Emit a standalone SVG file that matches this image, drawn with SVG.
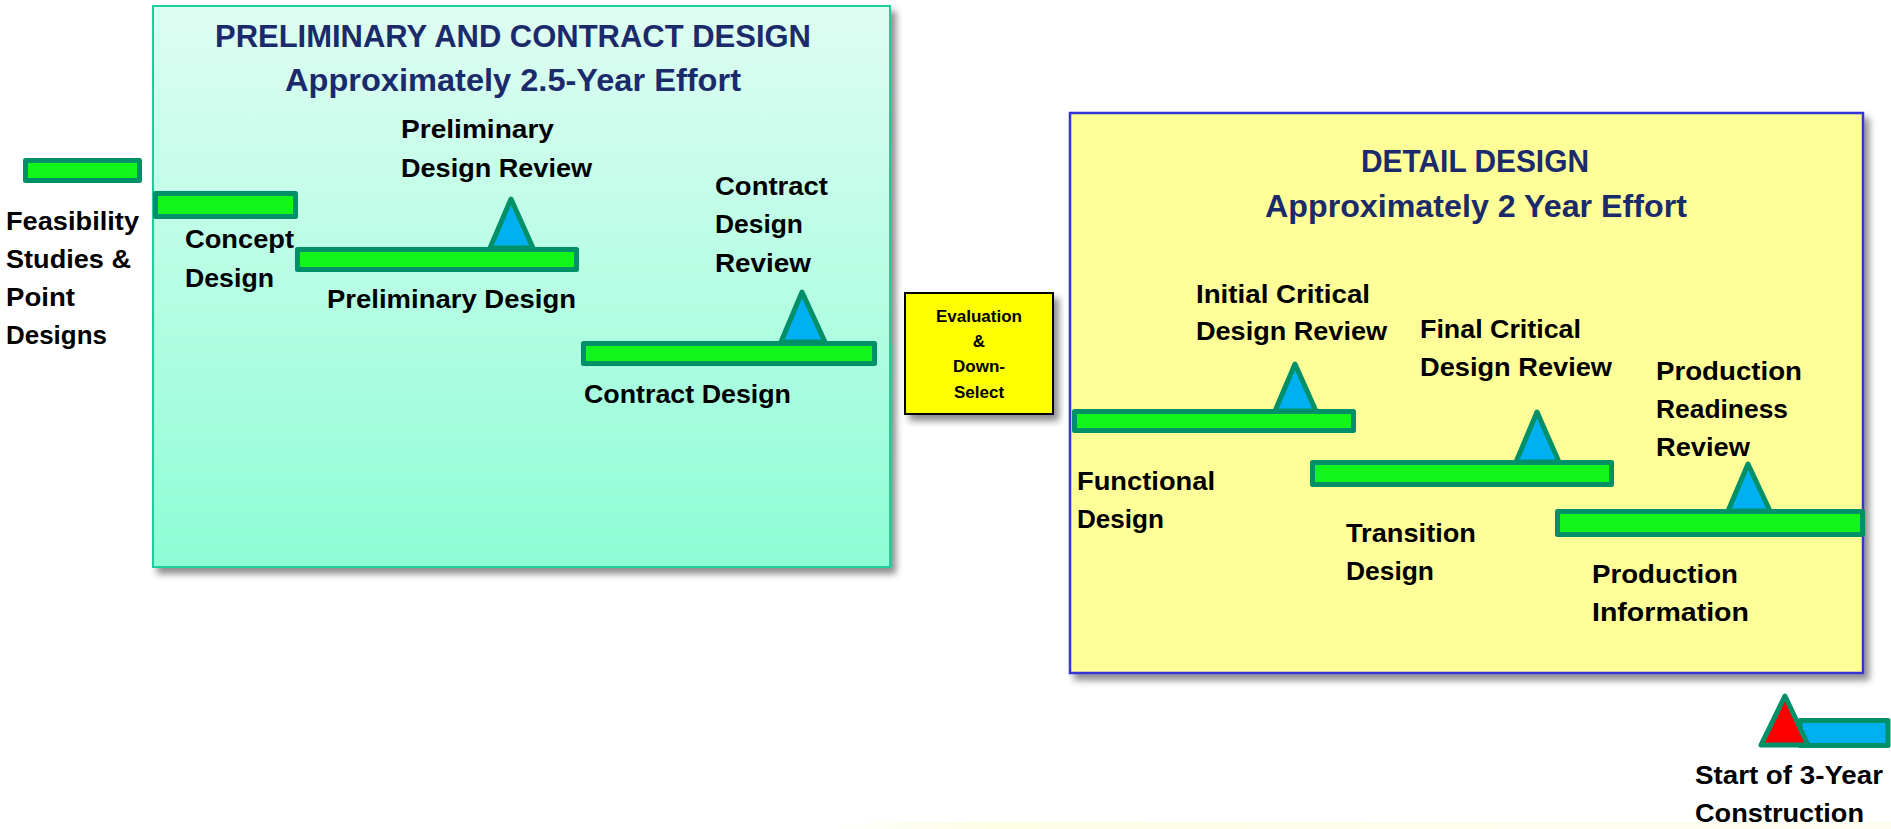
<svg xmlns="http://www.w3.org/2000/svg" width="1891" height="829" viewBox="0 0 1891 829">
  <defs>
    <linearGradient id="mint" x1="0" y1="0" x2="0" y2="1">
      <stop offset="0" stop-color="#dffdf2"/>
      <stop offset="1" stop-color="#8efdd6"/>
    </linearGradient>
    <linearGradient id="haze" x1="0" y1="0" x2="1" y2="0">
      <stop offset="0" stop-color="#fdfde2" stop-opacity="0"/>
      <stop offset="0.15" stop-color="#fbfde0" stop-opacity="0.9"/>
      <stop offset="1" stop-color="#fdfdea" stop-opacity="0.6"/>
    </linearGradient>
    <filter id="shadow" x="-5%" y="-5%" width="112%" height="115%">
      <feDropShadow dx="5" dy="6" stdDeviation="3.5" flood-color="#000" flood-opacity="0.45"/>
    </filter>
    <style>
      text { font-family: "Liberation Sans", Arial, sans-serif; font-weight: bold; }
      .title { font-size: 31px; fill: #1b2a6b; }
      .sub { font-size: 32px; fill: #1b2a6b; }
      .lbl { font-size: 26px; fill: #000; }
      .small { font-size: 17px; fill: #000; text-anchor: middle; }
      .bar { fill: #12f51a; stroke: #009068; stroke-width: 5; stroke-linejoin: round; }
      .bluebar { fill: #00b0f0; stroke: #009068; stroke-width: 5; stroke-linejoin: round; }
      .mile { fill: #00b0f0; stroke: #009068; stroke-width: 5; stroke-linejoin: round; }
      .start { fill: #ff0000; stroke: #009068; stroke-width: 5; stroke-linejoin: round; }
    </style>
  </defs>

  <rect x="0" y="0" width="1891" height="829" fill="#ffffff"/>
  <rect x="830" y="822" width="1061" height="7" fill="url(#haze)"/>

  <!-- Phase panels -->
  <g id="prelim-contract-panel">
    <rect x="153" y="6" width="737" height="561" fill="url(#mint)" stroke="#1fcf9a" stroke-width="2" filter="url(#shadow)"/>
    <text class="title" x="513" y="47" text-anchor="middle" textLength="596" lengthAdjust="spacingAndGlyphs">PRELIMINARY AND CONTRACT DESIGN</text>
    <text class="sub" x="285" y="91" textLength="456" lengthAdjust="spacingAndGlyphs">Approximately 2.5-Year Effort</text>
  </g>

  <g id="detail-panel">
    <rect x="1070" y="113" width="793" height="560" fill="#ffff99" stroke="#3535d5" stroke-width="2.5" filter="url(#shadow)"/>
    <text class="title" x="1475" y="172" text-anchor="middle" textLength="228" lengthAdjust="spacingAndGlyphs">DETAIL DESIGN</text>
    <text class="sub" x="1265" y="217" textLength="422" lengthAdjust="spacingAndGlyphs">Approximately 2 Year Effort</text>
  </g>

  <g id="evaluation">
    <rect x="905" y="293" width="148" height="121" fill="#ffff00" stroke="#000" stroke-width="2" filter="url(#shadow)"/>
    <text class="small" x="979" y="322">Evaluation</text>
    <text class="small" x="979" y="347">&amp;</text>
    <text class="small" x="979" y="372">Down-</text>
    <text class="small" x="979" y="398">Select</text>
  </g>

  <!-- Activity bars and review milestones -->
  <g id="feasibility">
    <rect class="bar" x="25.5" y="160.5" width="114" height="20"/>
    <text class="lbl" x="6" y="230" textLength="133" lengthAdjust="spacingAndGlyphs">Feasibility</text>
    <text class="lbl" x="6" y="268" textLength="125" lengthAdjust="spacingAndGlyphs">Studies &amp;</text>
    <text class="lbl" x="6" y="306" textLength="69" lengthAdjust="spacingAndGlyphs">Point</text>
    <text class="lbl" x="6" y="344" textLength="101" lengthAdjust="spacingAndGlyphs">Designs</text>
  </g>

  <g id="concept-design">
    <rect class="bar" x="155.5" y="193.5" width="140" height="23"/>
    <text class="lbl" x="185" y="248" textLength="109" lengthAdjust="spacingAndGlyphs">Concept</text>
    <text class="lbl" x="185" y="287" textLength="89" lengthAdjust="spacingAndGlyphs">Design</text>
  </g>

  <g id="preliminary-design">
    <polygon class="mile" points="511,199 490,248 533,248"/>
    <rect class="bar" x="297.5" y="249.5" width="279" height="20"/>
    <text class="lbl" x="401" y="138" textLength="153" lengthAdjust="spacingAndGlyphs">Preliminary</text>
    <text class="lbl" x="401" y="177" textLength="191" lengthAdjust="spacingAndGlyphs">Design Review</text>
    <text class="lbl" x="327" y="308" textLength="249" lengthAdjust="spacingAndGlyphs">Preliminary Design</text>
  </g>

  <g id="contract-design">
    <polygon class="mile" points="802,292 781,342 825,342"/>
    <rect class="bar" x="583.5" y="343.5" width="291" height="20"/>
    <text class="lbl" x="715" y="195" textLength="113" lengthAdjust="spacingAndGlyphs">Contract</text>
    <text class="lbl" x="715" y="233" textLength="88" lengthAdjust="spacingAndGlyphs">Design</text>
    <text class="lbl" x="715" y="272" textLength="96" lengthAdjust="spacingAndGlyphs">Review</text>
    <text class="lbl" x="584" y="403" textLength="207" lengthAdjust="spacingAndGlyphs">Contract Design</text>
  </g>

  <g id="functional-design">
    <polygon class="mile" points="1295,364 1275,411 1316,411"/>
    <rect class="bar" x="1074.5" y="411.5" width="279" height="19"/>
    <text class="lbl" x="1196" y="303" textLength="174" lengthAdjust="spacingAndGlyphs">Initial Critical</text>
    <text class="lbl" x="1196" y="340" textLength="191" lengthAdjust="spacingAndGlyphs">Design Review</text>
    <text class="lbl" x="1077" y="490" textLength="138" lengthAdjust="spacingAndGlyphs">Functional</text>
    <text class="lbl" x="1077" y="528" textLength="87" lengthAdjust="spacingAndGlyphs">Design</text>
  </g>

  <g id="transition-design">
    <polygon class="mile" points="1537,412 1516,462 1559,462"/>
    <rect class="bar" x="1312.5" y="462.5" width="299" height="22"/>
    <text class="lbl" x="1420" y="338" textLength="161" lengthAdjust="spacingAndGlyphs">Final Critical</text>
    <text class="lbl" x="1420" y="376" textLength="192" lengthAdjust="spacingAndGlyphs">Design Review</text>
    <text class="lbl" x="1346" y="542" textLength="130" lengthAdjust="spacingAndGlyphs">Transition</text>
    <text class="lbl" x="1346" y="580" textLength="88" lengthAdjust="spacingAndGlyphs">Design</text>
  </g>

  <g id="production-information">
    <polygon class="mile" points="1748,464 1728,511 1770,511"/>
    <rect class="bar" x="1557.5" y="511.5" width="305" height="23"/>
    <text class="lbl" x="1656" y="380" textLength="146" lengthAdjust="spacingAndGlyphs">Production</text>
    <text class="lbl" x="1656" y="418" textLength="132" lengthAdjust="spacingAndGlyphs">Readiness</text>
    <text class="lbl" x="1656" y="456" textLength="94" lengthAdjust="spacingAndGlyphs">Review</text>
    <text class="lbl" x="1592" y="583" textLength="146" lengthAdjust="spacingAndGlyphs">Production</text>
    <text class="lbl" x="1592" y="621" textLength="157" lengthAdjust="spacingAndGlyphs">Information</text>
  </g>

  <g id="construction-start">
    <rect class="bluebar" x="1800" y="720.5" width="88" height="25"/>
    <polygon class="start" points="1785,696 1761,745 1808,745"/>
    <text class="lbl" x="1695" y="784" textLength="188" lengthAdjust="spacingAndGlyphs">Start of 3-Year</text>
    <text class="lbl" x="1695" y="822" textLength="169" lengthAdjust="spacingAndGlyphs">Construction</text>
  </g>

  <g id="connectors"/>
</svg>
